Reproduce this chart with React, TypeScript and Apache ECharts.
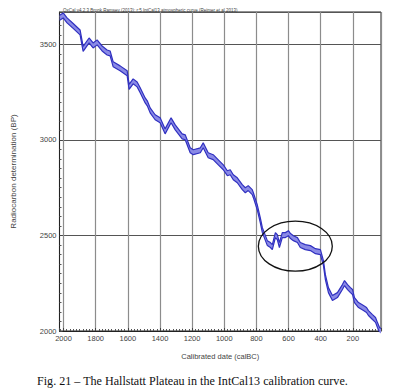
import React, { useEffect, useRef } from 'react';
import * as echarts from 'echarts';

// Calibrated date (cal BC) and radiocarbon age (BP)
const calBC = [2024, 2002, 1978, 1940, 1897, 1878, 1841, 1816, 1791, 1760, 1729, 1710, 1691, 1648, 1604, 1592, 1567, 1542, 1523, 1492, 1479, 1461, 1430, 1399, 1368, 1331, 1305, 1262, 1243, 1212, 1193, 1149, 1131, 1100, 1069, 1037, 1006, 981, 963, 944, 919, 888, 869, 851, 826, 819, 795, 776, 763, 732, 713, 701, 682, 670, 657, 639, 620, 601, 588, 570, 545, 527, 496, 464, 433, 402, 383, 371, 352, 327, 296, 265, 252, 233, 215, 202, 190, 165, 134, 115, 103, 78, 59, 47, 34, 25];
const radiocarbonBP = [3640, 3652, 3626, 3597, 3563, 3477, 3521, 3495, 3511, 3479, 3458, 3453, 3396, 3375, 3349, 3278, 3307, 3291, 3260, 3207, 3192, 3155, 3119, 3103, 3045, 3103, 3066, 3019, 3014, 2946, 2936, 2946, 2972, 2920, 2910, 2883, 2857, 2826, 2831, 2805, 2789, 2753, 2737, 2748, 2727, 2711, 2648, 2580, 2528, 2460, 2450, 2439, 2502, 2491, 2450, 2502, 2502, 2512, 2497, 2486, 2476, 2450, 2439, 2434, 2418, 2413, 2355, 2282, 2214, 2173, 2188, 2230, 2251, 2230, 2214, 2204, 2162, 2136, 2120, 2110, 2094, 2073, 2058, 2031, 2005, 2000];
// one-sigma half width of the curve band (BP)
const sigmaBP = 13;
// Hallstatt plateau highlight: centre (calBC, BP) and radii (years, BP)
const plateau = [558, 2444, 230, 131];

const titleText = 'OxCal v4.2.3 Bronk Ramsey (2013); r:5 IntCal13 atmospheric curve (Reimer et al 2013)';
const captionText = 'Fig. 21 \u2013 The Hallstatt Plateau in the IntCal13 calibration curve.';

export default function App() {
  const ref = useRef<HTMLDivElement>(null);
  useEffect(() => {
    if (!ref.current) return;
    const chart = echarts.init(ref.current, null, { renderer: 'svg' });
    const lower = calBC.map((x, i) => [x, radiocarbonBP[i] - sigmaBP]);
    const upper = calBC.map((x, i) => [x, radiocarbonBP[i] + sigmaBP]);
    const edge = '#3030c0';
    const sans = 'Liberation Sans, Arial, sans-serif';
    chart.setOption({
      animation: false,
      backgroundColor: '#fff',
      title: {
        text: titleText,
        left: 58,
        top: 3,
        textStyle: { fontSize: 4.5, fontWeight: 'normal', color: '#444', fontFamily: sans },
      },
      grid: {
        left: 59.5, top: 12, right: 19, bottom: 59,
        containLabel: false, outerBoundsMode: 'none',
        show: true, borderColor: '#222', borderWidth: 1, backgroundColor: 'transparent',
      },
      xAxis: {
        type: 'value', inverse: true, min: 25, max: 2025, splitNumber: 10,
        name: 'Calibrated date (calBC)', nameLocation: 'middle', nameGap: 21,
        nameTextStyle: { fontSize: 7.5, color: '#444', fontFamily: sans },
        axisLine: { show: true, lineStyle: { color: '#222', width: 1 } },
        axisTick: { show: true, inside: true, length: 3, lineStyle: { color: '#444' } },
        minorTick: { show: true, splitNumber: 10, length: 2, lineStyle: { color: '#555' } },
        axisLabel: { fontSize: 7.5, color: '#444', fontFamily: sans, margin: 3, showMinLabel: false, showMaxLabel: false, formatter: (v: number) => String(v) },
        splitLine: { show: true, lineStyle: { color: '#8c8c8c', width: 1.2 } },
      },
      yAxis: {
        type: 'value', min: 2000, max: 3670, interval: 500,
        name: 'Radiocarbon determination (BP)', nameLocation: 'middle', nameGap: 42, nameRotate: 90,
        nameTextStyle: { fontSize: 8, color: '#444', fontFamily: sans },
        axisLine: { show: true, lineStyle: { color: '#222', width: 1 } },
        axisTick: { show: true, inside: true, length: 3, lineStyle: { color: '#444' } },
        minorTick: { show: true, splitNumber: 10, length: 2, lineStyle: { color: '#555' } },
        axisLabel: { fontSize: 7.5, color: '#444', fontFamily: sans, margin: 3, showMaxLabel: false, formatter: (v: number) => String(v) },
        splitLine: { show: true, lineStyle: { color: '#555', width: 1 } },
      },
      graphic: [
        {
          type: 'text', left: 37, top: 375,
          style: { text: captionText, fontSize: 12.1, fill: '#111', fontFamily: 'Liberation Serif, Times New Roman, serif' },
        },
      ],
      series: [
        {
          type: 'custom', name: 'band', data: [[calBC[0], radiocarbonBP[0]]], encode: { x: 0, y: 1 }, silent: true, z: 1,
          renderItem: (params: any, api: any) => {
            const pts: number[][] = [];
            upper.forEach((p) => pts.push(api.coord(p)));
            for (let i = lower.length - 1; i >= 0; i--) pts.push(api.coord(lower[i]));
            return {
              type: 'polygon',
              shape: { points: pts },
              style: { fill: '#8a8ae6', stroke: 'none' },
            };
          },
        },
        { type: 'line', name: 'upper', data: upper, showSymbol: false, symbol: 'none', lineStyle: { color: edge, width: 1.2 }, silent: true, z: 2 },
        { type: 'line', name: 'lower', data: lower, showSymbol: false, symbol: 'none', lineStyle: { color: edge, width: 1.2 }, silent: true, z: 2 },
        {
          type: 'custom', name: 'plateau', data: [plateau], encode: { x: 0, y: 1 }, clip: false, silent: true, z: 3,
          renderItem: (params: any, api: any) => {
            const c = api.coord([api.value(0), api.value(1)]);
            const s = api.size([api.value(2), api.value(3)]);
            return {
              type: 'ellipse',
              shape: { cx: c[0], cy: c[1], rx: s[0], ry: s[1] },
              style: { fill: 'none', stroke: '#111', lineWidth: 1.3 },
            };
          },
        },
      ],
    });
    return () => chart.dispose();
  }, []);
  return <div ref={ref} style={{ position: 'fixed', left: 0, top: 0, width: 400, height: 390, background: '#fff' }} />;
}
